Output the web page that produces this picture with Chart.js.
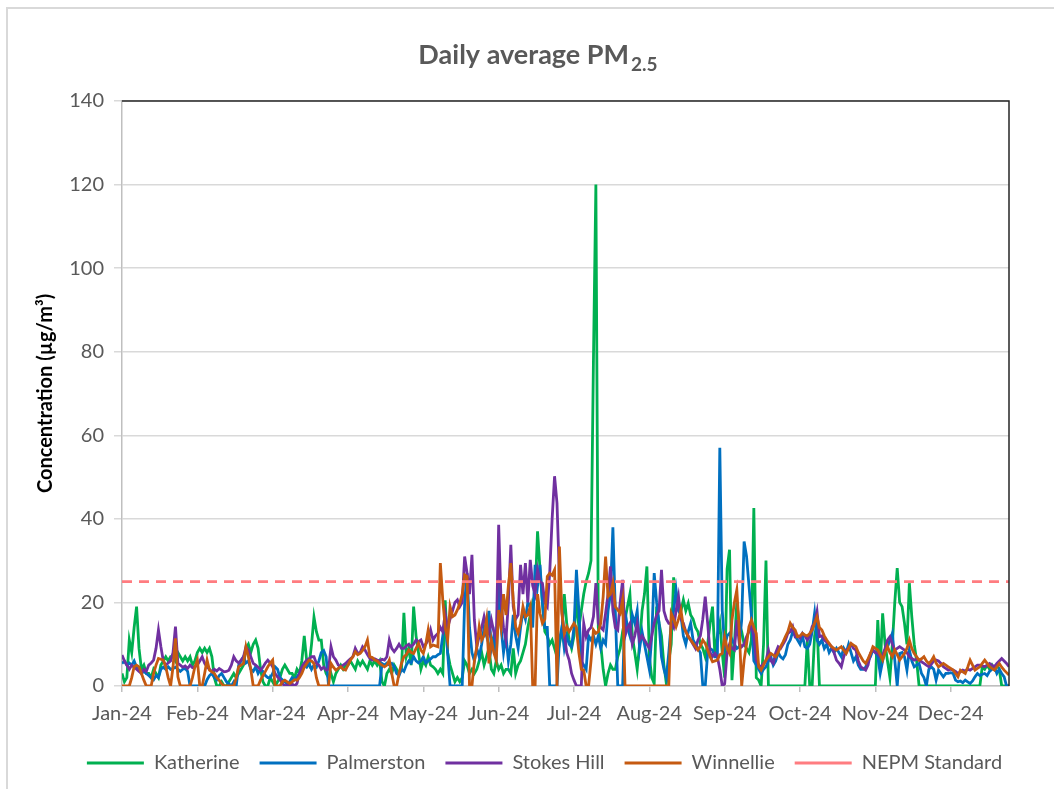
<!DOCTYPE html>
<html>
<head>
<meta charset="utf-8">
<script src="https://cdn.jsdelivr.net/npm/chart.js@4.4.1/dist/chart.umd.min.js"></script>
<style>
  html, body { margin: 0; padding: 0; background: #fff; }
</style>
</head>
<body>
<canvas id="pmChart" width="1054" height="789"></canvas>
<script>
// daily values, 1 Jan - 31 Dec 2024 (one line per month)
const katherine = [
  3,1,2,11,8,14,19,9,4,5,3,3,2,4,3,2,5,6,7,6,7,7,6,8,7,6,7,6,7,5,6,
  8,9,8,9,8,9,7,2,0,0,1,0,0,1,2,3,2,3,4,5,9,10,8,10,11,9,4,1,0,
  0,2,1,0,1,2,4,5,4,3,3,2,4,3,6,12,6,5,10,16.5,13,11,11,5,3,2,3,1,3,4,5,
  4,5,5,6,5,4,6,5,6,5,4,6,5,6,5,6,1,0,3,4,3,5,4,3,4,17.5,7,9,5,19,
  12,8,4,6,5,7,5,4.6,4,3,4,3,20.5,8,5,3,1,2,1,2,6,5,3,4,3,4,6,8,5,7,9,
  4,3,6,4,5,3,4,4,3,9,3,5,6,8,10,14,17,20,22,37,28,20,13,12,10,11,9,7,10,13,
  22,15,11,9,12,21,14,18,22,25,27,30,78,120,14,10,4,0,3,5,4,4,7,9,13,16,19,22,12,8,4,
  10,18,22,28.6,7,2,0.6,19,15,12,5,0.6,6,10,26,22,20,18,20.6,18,19.8,17,16,14,13,10,9,7,10,15,19,
  7,12,15,8,2,28,32.6,1.4,10,20,15,13,10,9,8,11,42.6,2,1.4,0,10,30,0,0,0,0,0,0,0,0,
  0,0,0,0,0,0,0,0,11,0,0,12,15,0,0,0,0,0,0,0,0,0,0,0,0,0,0,0,0,0,0,
  0,0,0,0,0,0,15.8,4,17.4,10,6,2,10,20,28.2,20,19,15,10,24.6,16.6,10,6,0,0,0,0,0,0,0,
  0,0,0,0,0,0,0,0,0,0,0,0,0,0,0,0,0,0,0,4.6,4,5,4,5,4,5,4,0,0,0,0
];
const palmerston = [
  5.4,6,5,5.5,5,6,4.5,4,3,3.5,3,2.5,2,1.5,2.5,2,4,4.5,4,4.6,4,4.2,4.5,4,3.5,4,4.2,3.5,0,0,0,
  0,0,0,0,1.5,2.5,3,2,1.5,2.5,3,2,1,0.5,0,1,0,5,6,7,5.5,6,4,3.5,4.6,3,4,3.5,2.5,
  2,2,3,4.6,4,2,1.5,1,0.6,1,2,1.5,2.2,3,4,5,4.5,5.4,4,5,4.5,6,8,8.5,7,0,0,0,0,0,0,
  0,0,0,0,0,0,0,0,0,0,0,0,0,0,0,0,5.4,5,5.5,5,5.4,4.6,3,2.5,4,3.5,5,6,5.5,7,
  6,5.5,6,7,5.5,6,6.5,7,7,7.5,7.8,12,16,8,0,0,0,0,0,0,20,27,14,8,6,9,7,10,14,12,18,
  9,12,6,25,14,8,12,6,10,17,12,9,14,18,16,20,19,14,29,24,29,20,14,14,0,0,0,0,11,14,
  9,12,10,9.4,14,27.8,18,6,5,4,12,11,12,10,12,9,11,10,18,22,38,18,0,0,0,18,14,12,17,15,18,
  9,13,10,7,4,12,27,20,15,7,4,2,8,15,18,23,18,17,12,10,13,15,11,10,9,8,0,0,8,9,8.6,
  7,7,57,18,9.4,12,12.6,11,10,9,9.4,15.8,34.6,31,24,17,6,5,4,3,4,4.6,6,7,5,6,8,7,6.5,7.5,
  10,11,13,12,11,10,12,9.4,9,10,13,17.4,11,10,11,9,10,8,9,8,9,8,7,9,8,10,8,6,7,5,4,
  4,4.5,6,7,8.6,8,7,3,6,8.6,9.4,11,12.6,6.2,0,7.8,8,7,3.8,8.6,6,4.6,5,5.4,3,2,0,4,4.6,4,
  1.4,3.8,3,2.2,3,3,3.2,3,1.4,1,1.2,0.8,1.4,1,0.6,1.2,2.2,3,2.5,2.8,3,2.5,3.5,4,4.6,3,4,3,2.2,0,0
];
const stokesHill = [
  7.4,6,5,4,5,4.5,4,3.5,3,4,3.5,5,5.5,6.2,9,13.4,9.4,6,5,5.5,6,8,14.2,5.4,5,4.5,4.8,4.2,5,4.4,4.6,
  5,6,7,5.4,4.6,4,3.4,4,3.6,4.2,3.8,3.4,3.5,3.8,5,7,6,5.5,6.2,7,9.4,8.6,7,5.4,5,4.5,3.8,4.5,5.5,
  6.2,5.5,4.6,3,2.2,1.5,0.6,0,0.3,0,0.5,0,0.6,3,4.6,5.5,6.2,6.5,7,7,5.4,5,4,4.5,3.8,4,9.4,7,6.2,5,4.6,
  5,5.4,6,6.5,7,9,7.8,8,9.4,8.6,7.5,6.6,6.2,6.5,6.2,6,6.4,6.2,7,11,9,8.2,9,10,9,9,9.6,10,9.4,10,
  11,10.6,11,9.4,10,11,13.4,11,12,12.6,14,13,17.4,14,16,18,20,20.6,19,20,31,27,22,31.4,15.8,9.4,12,14,16.6,14,12.6,
  15.8,13,11,38.6,20,14,11,20,33.8,19,16,17,29,22,29.4,20,30.2,24,22,27.8,25,24.6,20,19,27,40,50.2,43.8,26,18,
  12.6,8,6.2,3,1.4,0,0,0,15,11.8,13.4,14,16.6,24.6,15,14,13.4,17.4,22,28.6,18,14,13.4,20,25.4,12,14,15,10,12,15,
  11,12,11,10,9,12,15,17,18,27.8,18,16,15,15,14,18,21.4,16,15,13,12,11,10,9,11,12,16,21.4,15,8,7,
  7.8,7,4,0,0.5,8,10,9,8.6,15.8,10.2,9.4,10,11.8,13,15,12,6.2,5,4.6,5.4,6,8.6,6,5.4,8,9.4,9,10,11,
  12.6,13,14.2,11.8,12,11.4,12.6,12,11,12,14.2,15,17.8,11.8,12,11,10.5,10,9.4,8,6.2,5.5,4.6,7,8.6,9,10,9,8.6,6,4.6,
  4.2,3.8,5,7.8,8.6,8,7.8,7,7.4,9,11,11.8,10,8.6,9,9.4,9,8.6,8,7,6.6,6.2,6.4,6.2,5.8,5.4,5,4.6,5.2,6,
  6.2,6,5.4,4.6,4.2,3.8,4,3.8,3.5,3,3.4,3.8,3.6,4,3.8,4.2,4.6,5,5,4.8,4.6,5,5.4,5,4.6,5.4,6,6.6,6,5.4,4.6
];
const winnellie = [
  0,0,0,0,2,4.6,5,4.6,3,1.4,0,0,0,3,5,6.6,6.4,6.2,4.6,2,0,4.6,11.4,2.2,0,0,0,0,0,2,4.6,
  6.2,0,0,3,6.2,3.8,3.4,3,2,1.4,0.5,0,0,0,0,0,2,4.6,5,5.4,9.4,7,4,0,0,0,1.4,2.5,3.5,
  4.6,5.5,6.2,0,0,0,1,1.4,1,0.6,1,1.5,1.4,2,3,4.5,5.4,6.2,6,5.4,2,0,0,0,0,0,5.4,4.5,3.8,4.2,4.6,
  4,3.8,5,6.2,7,8.2,7.5,7.8,8.5,9.4,11,7,6.8,6.2,6,5.4,5,4.6,5,6.2,3,0,0,3,5.4,7,7.5,8.6,8,7.8,
  9,10.2,8.6,7.8,10,13.4,9.4,9.8,9.6,9.4,29.4,20.6,14,11,19,16.6,17,18.2,19.8,22,26.6,26.2,0,0,6,9.4,14.2,11,12,15.8,5.4,
  11,8,6.2,18.2,14,22,17,24,29.4,20.6,14.2,12.6,15,19,16.6,17,19,0,0,22,17.4,15,16,26.2,27,26.5,27.8,0,33.4,17.4,
  12.6,14.2,13,14,15,14,8,4,3.8,0,0,6,13.4,12.6,13,15,21.4,31,21.4,22,24.6,19,18.2,17.4,20.6,0,0,0,0,0,0,
  0,0,0,0,0,0,0,0,0,0,0,0,0,17.4,16,14.2,16,18.2,14.2,13,11.8,11,10.2,9.4,8.6,9.5,11,10.2,8.6,7,5.8,
  6,6.2,7.5,7.8,11.8,9,7.8,15.8,20,23,13.4,0,6.2,10,14.2,15.8,14,12.6,4.6,3.8,5,6.2,7,7.8,7.4,7,8,9.4,10.5,11.8,
  13,15,14,13.4,11.8,12,12.6,12.2,12,12.6,13.4,15,16.6,14,13.4,12,11,10.2,9.4,9,8.6,9,9.4,8.5,7.8,9,10.2,9.8,9.4,8,7,
  6,5.4,6.5,7.8,9.4,9,8.6,7.5,6.2,8,9.4,8,7,8.6,7.5,6.2,7,7.8,9,11,9,7.8,7,6.2,6.5,7,6,5.4,6,7,
  5.5,4.6,5,5.4,5,4.6,4.2,3.8,3,2.2,3.8,3.4,3,4.5,6.2,5,3.8,4.2,4.6,5.4,6.2,5.4,4.6,4.2,3.8,4.6,5.4,4.5,3.8,3.2,2.6
];
const nepmStandard = 25;

// axis labels every 31 days, as on the original sheet
const tickDays = [0, 31, 62, 93, 124, 155, 186, 217, 248, 279, 310, 341];
const monthLabels = ["Jan-24", "Feb-24", "Mar-24", "Apr-24", "May-24", "Jun-24",
                     "Jul-24", "Aug-24", "Sep-24", "Oct-24", "Nov-24", "Dec-24"];

const titleText = "Daily average PM";
const titleSub = "2.5";

const GREY = "#595959";
const LINE_W = 2.8;
Chart.defaults.font.family = "Lato";
Chart.defaults.color = GREY;

const toPoints = (arr) => arr.map((v, i) => ({ x: i, y: v }));
const lastDay = katherine.length - 1;

// light outer frame + dark top/right edge of the plot area
const chartFrame = {
  id: "chartFrame",
  beforeDraw(chart) {
    const ctx = chart.ctx;
    ctx.save();
    ctx.fillStyle = "#fff";
    ctx.fillRect(0, 0, chart.width, chart.height);
    ctx.strokeStyle = "#D9D9D9";
    ctx.lineWidth = 2;
    ctx.beginPath();
    ctx.moveTo(7, chart.height);
    ctx.lineTo(7, 8);
    ctx.lineTo(chart.width, 8);
    ctx.stroke();
    ctx.restore();
  },
  afterDraw(chart) {
    const { left, right, top, bottom } = chart.chartArea;
    const ctx = chart.ctx;
    ctx.save();
    ctx.strokeStyle = "#262626";
    ctx.lineWidth = 1.5;
    ctx.beginPath();
    ctx.moveTo(left, top);
    ctx.lineTo(right, top);
    ctx.lineTo(right, bottom);
    ctx.stroke();
    ctx.restore();
  },
};

// title with subscript
const chartTitle = {
  id: "chartTitle",
  afterDraw(chart) {
    const ctx = chart.ctx;
    ctx.save();
    ctx.fillStyle = GREY;
    ctx.textBaseline = "alphabetic";
    ctx.font = "bold 19px Lato";
    const subW = ctx.measureText(titleSub).width;
    ctx.font = "bold 27px Lato";
    const mainW = ctx.measureText(titleText).width;
    const x0 = 538 - (mainW + subW + 2) / 2;
    ctx.fillText(titleText, x0, 64);
    ctx.font = "bold 19px Lato";
    ctx.fillText(titleSub, x0 + mainW + 2, 71);
    ctx.restore();
  },
};

// legend sits a little right of the canvas centre
const shiftLegend = {
  id: "shiftLegend",
  afterLayout(chart) {
    chart.legend.left += 30;
    chart.legend.right += 30;
    chart.legend.top -= 3;
    chart.legend.bottom -= 3;
  },
};

const ctx = document.getElementById("pmChart").getContext("2d");

const data = {
  datasets: [
    { label: "Katherine", data: toPoints(katherine), borderColor: "#00B050", backgroundColor: "#00B050", borderWidth: LINE_W, order: 5 },
    { label: "Palmerston", data: toPoints(palmerston), borderColor: "#0070C0", backgroundColor: "#0070C0", borderWidth: LINE_W, order: 4 },
    { label: "Stokes Hill", data: toPoints(stokesHill), borderColor: "#7030A0", backgroundColor: "#7030A0", borderWidth: LINE_W, order: 3 },
    { label: "Winnellie", data: toPoints(winnellie), borderColor: "#C55A11", backgroundColor: "#C55A11", borderWidth: LINE_W, order: 2 },
    {
      label: "NEPM Standard",
      data: [{ x: 0, y: nepmStandard }, { x: lastDay, y: nepmStandard }],
      borderColor: "#FF7C80",
      backgroundColor: "#FF7C80",
      borderWidth: LINE_W,
      borderDash: [10, 7],
      order: 1,
    },
  ],
};

const config = {
  type: "line",
  data: data,
  options: {
    responsive: false,
    animation: false,
    layout: { padding: { top: 101, left: 20, right: 45, bottom: 3 } },
    elements: {
      point: { radius: 0 },
      line: { tension: 0, fill: false },
    },
    scales: {
      x: {
        type: "linear",
        min: 0,
        max: lastDay,
        afterBuildTicks: (scale) => {
          scale.ticks = tickDays.map((v) => ({ value: v }));
        },
        ticks: {
          autoSkip: false,
          maxRotation: 0,
          padding: 10,
          font: { size: 20 },
          color: GREY,
          callback: (value, index) => monthLabels[index],
        },
        grid: { drawOnChartArea: false, drawTicks: true, tickLength: 6, color: "#BFBFBF", lineWidth: 1.5 },
        border: { color: "#BFBFBF", width: 1.5 },
      },
      y: {
        min: 0,
        max: 140,
        afterFit: (scale) => {
          scale.width = 102;
        },
        ticks: { stepSize: 20, padding: 10, font: { size: 20 }, color: GREY },
        grid: { color: "#D9D9D9", lineWidth: 1.5, tickLength: 8 },
        border: { color: "#BFBFBF", width: 1.5 },
        title: {
          display: true,
          text: "Concentration (µg/m³)",
          color: "#000",
          font: { size: 20, weight: "bold" },
          padding: { top: 14, bottom: 0 },
        },
      },
    },
    plugins: {
      legend: {
        position: "bottom",
        labels: {
          usePointStyle: true,
          pointStyle: "line",
          pointStyleWidth: 57,
          padding: 20,
          font: { size: 20 },
          color: GREY,
          sort: (a, b) => a.datasetIndex - b.datasetIndex,
        },
      },
      tooltip: { enabled: false },
    },
  },
  plugins: [chartFrame, chartTitle, shiftLegend],
};

const pmChart = new Chart(ctx, config);
</script>
</body>
</html>
